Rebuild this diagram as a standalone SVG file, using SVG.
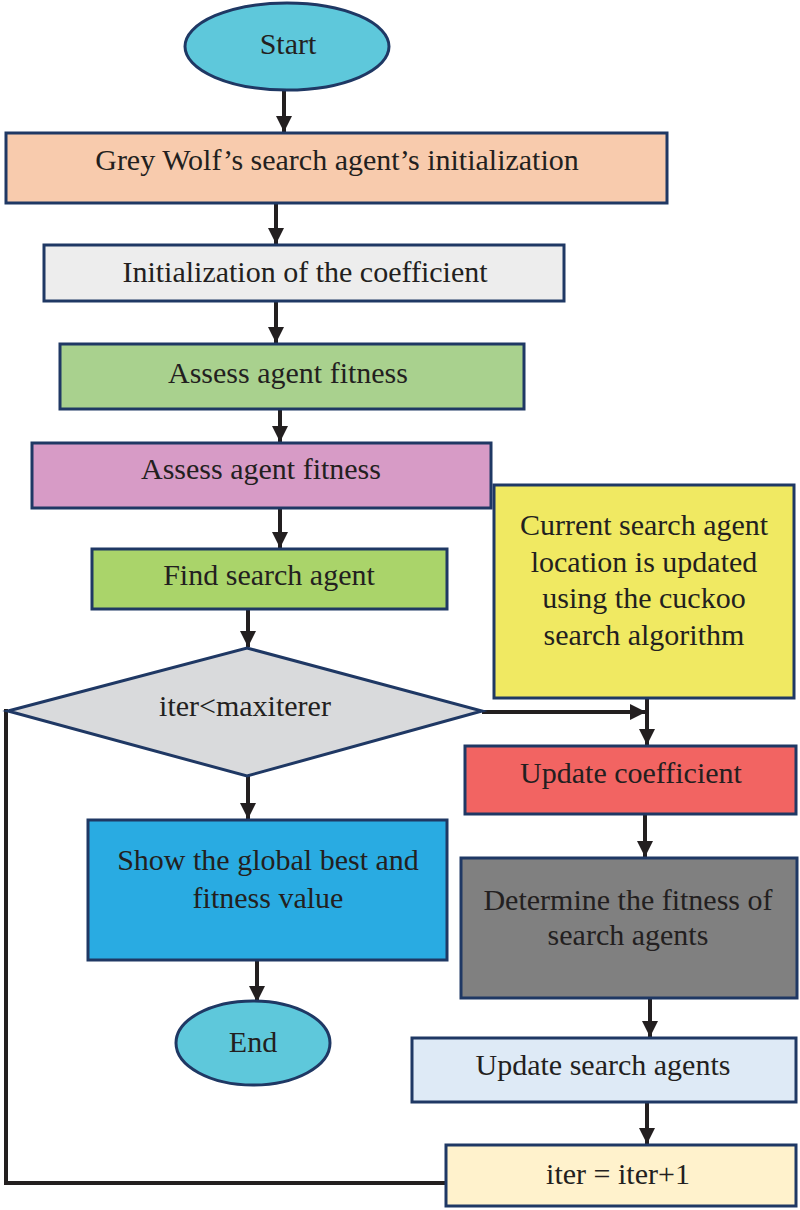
<svg xmlns="http://www.w3.org/2000/svg" width="800" height="1210" viewBox="0 0 800 1210">
<defs>
<style>
.n{stroke:#1F3864;stroke-width:3}
.t{font-family:"Liberation Serif","Times New Roman",serif;font-size:30px;fill:#231F20;text-anchor:middle}
.c{fill:none;stroke:#231F20;stroke-width:4}
</style>
<marker id="ah" viewBox="0 0 10 10" refX="10" refY="5" markerWidth="4" markerHeight="4" orient="auto" markerUnits="strokeWidth">
<path d="M0,0 L10,5 L0,10 Z" fill="#231F20"/>
</marker>
</defs>
<rect width="800" height="1210" fill="#ffffff"/>
<g id="connectors">
<line class="c" x1="284" y1="90" x2="284" y2="132" marker-end="url(#ah)"/>
<line class="c" x1="276" y1="203" x2="276" y2="244" marker-end="url(#ah)"/>
<line class="c" x1="276" y1="301" x2="276" y2="343" marker-end="url(#ah)"/>
<line class="c" x1="280" y1="409" x2="280" y2="442" marker-end="url(#ah)"/>
<line class="c" x1="280" y1="508" x2="280" y2="548" marker-end="url(#ah)"/>
<line class="c" x1="248" y1="609" x2="248" y2="647" marker-end="url(#ah)"/>
<line class="c" x1="248" y1="776" x2="248" y2="819" marker-end="url(#ah)"/>
<line class="c" x1="257" y1="960" x2="257" y2="1002" marker-end="url(#ah)"/>
<line class="c" x1="482" y1="712" x2="646" y2="712" marker-end="url(#ah)"/>
<line class="c" x1="647" y1="698" x2="647" y2="745" marker-end="url(#ah)"/>
<line class="c" x1="645" y1="814" x2="645" y2="857" marker-end="url(#ah)"/>
<line class="c" x1="650" y1="998" x2="650" y2="1037" marker-end="url(#ah)"/>
<line class="c" x1="647" y1="1102" x2="647" y2="1144" marker-end="url(#ah)"/>
<polyline class="c" points="446,1183 6,1183 6,711 8,711"/>
</g>
<g id="start">
<ellipse class="n" cx="287" cy="46.5" rx="102" ry="43.5" fill="#5EC8DB"/>
<text class="t" x="288" y="54">Start</text>
</g>
<g id="init-agents">
<rect class="n" x="6" y="133" width="661" height="70" fill="#F8CBAD"/>
<text class="t" x="337" y="170">Grey Wolf’s search agent’s initialization</text>
</g>
<g id="init-coeff">
<rect class="n" x="44" y="245" width="520" height="56" fill="#EDEDED"/>
<text class="t" x="305" y="282">Initialization of the coefficient</text>
</g>
<g id="assess1">
<rect class="n" x="60" y="344" width="464" height="65" fill="#A9D18E"/>
<text class="t" x="288" y="383">Assess agent fitness</text>
</g>
<g id="assess2">
<rect class="n" x="32" y="443" width="459" height="65" fill="#D79BC6"/>
<text class="t" x="261" y="479">Assess agent fitness</text>
</g>
<g id="find">
<rect class="n" x="92" y="549" width="355" height="60" fill="#AAD46A"/>
<text class="t" x="269" y="585">Find search agent</text>
</g>
<g id="cuckoo">
<rect class="n" x="494" y="485" width="300" height="213" fill="#F0E962"/>
<text class="t" x="644" y="535">Current search agent</text>
<text class="t" x="644" y="572">location is updated</text>
<text class="t" x="644" y="608">using the cuckoo</text>
<text class="t" x="644" y="645">search algorithm</text>
</g>
<g id="decision">
<polygon class="n" points="8,711 247,648 482,711 247,776" fill="#D9DADC"/>
<text class="t" x="245" y="716">iter&lt;maxiterer</text>
</g>
<g id="update-coeff">
<rect class="n" x="465" y="746" width="331" height="68" fill="#F26462"/>
<text class="t" x="631" y="783">Update coefficient</text>
</g>
<g id="determine">
<rect class="n" x="461" y="858" width="336" height="140" fill="#808080"/>
<text class="t" x="628" y="910">Determine the fitness of</text>
<text class="t" x="628" y="945">search agents</text>
</g>
<g id="show">
<rect class="n" x="88" y="820" width="359" height="140" fill="#29ABE2"/>
<text class="t" x="268" y="870">Show the global best and</text>
<text class="t" x="268" y="908">fitness value</text>
</g>
<g id="end">
<ellipse class="n" cx="253" cy="1043" rx="77" ry="42" fill="#5EC8DB"/>
<text class="t" x="253" y="1052">End</text>
</g>
<g id="update-agents">
<rect class="n" x="412" y="1038" width="384" height="64" fill="#DEEAF6"/>
<text class="t" x="603" y="1075">Update search agents</text>
</g>
<g id="increment">
<rect class="n" x="446" y="1145" width="350" height="61" fill="#FFF2CC"/>
<text class="t" x="618" y="1184">iter = iter+1</text>
</g>
</svg>
